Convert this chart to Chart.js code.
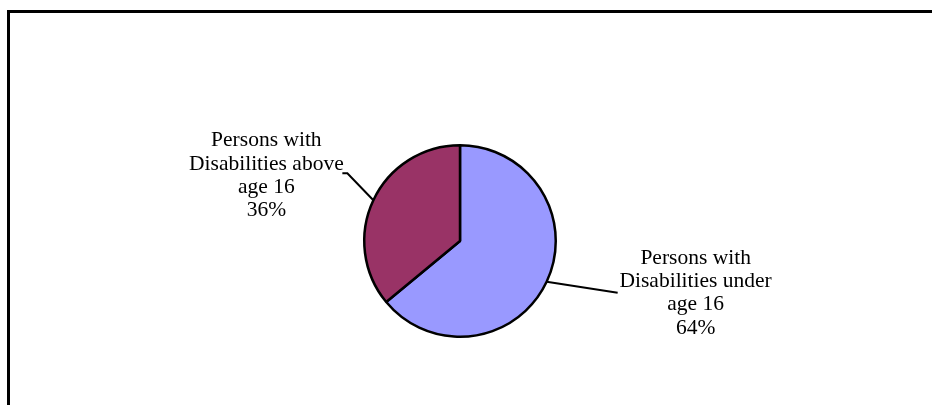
<!DOCTYPE html>
<html>
<head>
<meta charset="utf-8">
<script src="https://cdn.jsdelivr.net/npm/chart.js@4.4.0/dist/chart.umd.min.js"></script>
<style>
  html, body { margin:0; padding:0; background:#fff; }
  #wrap { position:relative; width:932px; height:405px; overflow:hidden; }
  #frame { position:absolute; left:7px; top:10px; width:1000px; height:500px;
           border-top:3px solid #000; border-left:3px solid #000; box-sizing:border-box; }
  canvas { position:absolute; left:0; top:0; }
</style>
</head>
<body>
<div id="wrap">
  <div id="frame"></div>
  <canvas id="chart-pie" width="932" height="405"></canvas>
</div>
<script>
// données
const labels  = [["Persons with", "Disabilities under", "age 16"], ["Persons with", "Disabilities above", "age 16"]];
const values  = [64, 36];
const colors  = ["#9999FF", "#993366"];

// étiquettes avec traits de rappel, placées à partir du milieu de chaque secteur
const leaderLabels = {
  id: "leaderLabels",
  afterDatasetsDraw(chart, args, opts) {
    const ctx = chart.ctx;
    const meta = chart.getDatasetMeta(0);
    const total = values.reduce((a,b)=>a+b, 0);
    ctx.save();
    ctx.font = opts.font;
    ctx.fillStyle = "#000";
    ctx.strokeStyle = "#000";
    ctx.lineWidth = 2;
    ctx.textAlign = "center";
    meta.data.forEach((arc, i) => {
      const p = arc.getProps(["x","y","startAngle","endAngle","outerRadius"], true);
      const mid = (p.startAngle + p.endAngle) / 2;
      const mx = p.x + Math.cos(mid) * p.outerRadius;
      const my = p.y + Math.sin(mid) * p.outerRadius;
      const o = opts.place[i];
      ctx.beginPath();
      ctx.moveTo(mx, my);
      let ex = mx, ey = my;
      o.path.forEach(([dx,dy]) => { ex = mx + dx; ey = my + dy; ctx.lineTo(ex, ey); });
      ctx.stroke();
      const lines = labels[i].concat([Math.round(values[i] / total * 100) + "%"]);
      lines.forEach((t, k) => ctx.fillText(t, ex + o.text[0], ey + o.text[1] + k * opts.lineHeight));
    });
    ctx.restore();
  }
};

new Chart(document.getElementById("chart-pie").getContext("2d"), {
  type: "pie",
  data: { labels: labels, datasets: [{ data: values, backgroundColor: colors, borderColor: "#000", borderWidth: 2.5 }] },
  options: {
    responsive: false,
    animation: false,
    layout: { padding: { top: 144, bottom: 67, left: 0, right: 12 } },
    plugins: {
      legend: { display: false },
      tooltip: { enabled: false },
      leaderLabels: {
        font: "21.5px 'Liberation Serif', 'Times New Roman', serif",
        lineHeight: 23.3,
        place: [
          { path: [[71, 11]], text: [78, -29] },
          { path: [[-26, -27], [-31, -27]], text: [-76, -27] }
        ]
      }
    }
  },
  plugins: [leaderLabels]
});
</script>
</body>
</html>
